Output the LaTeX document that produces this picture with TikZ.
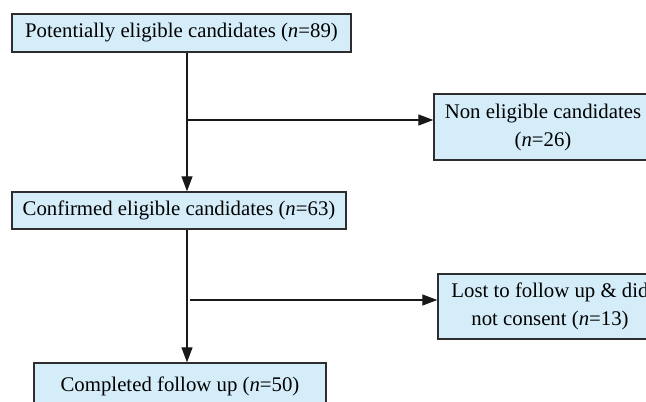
\documentclass[tikz,border=0pt]{standalone}
\usepackage{fontspec}
\setmainfont{Liberation Serif}
\usetikzlibrary{arrows.meta}
\definecolor{boxblue}{RGB}{212,237,249}
\definecolor{boxline}{RGB}{45,45,45}
\tikzset{%
  flowbox/.style  = {shape=rectangle, draw=boxline, line width=1.4pt,%
                     fill=boxblue, align=center, inner sep=0pt,%
                     font=\fontsize{20.8}{28}\selectfont},%
  flowline/.style = {line width=1.3pt, black!90},%
  flowarrow/.style= {flowline, -{Triangle[length=15pt,width=11pt]}}%
}
\newcommand{\nval}[1]{(\textit{n}=#1)}

\begin{document}
\begin{tikzpicture}[x=1pt,y=-1pt]
	\useasboundingbox (0,0) rectangle (646,402);
	\clip (0,0) rectangle (646,402);
	\node [flowbox, minimum width=339, minimum height=38] (pot) at (181.5,33)
		{Potentially eligible candidates \nval{89}};
	\node [flowbox, minimum width=218, minimum height=66] (non) at (543,127)
		{Non eligible candidates\\\nval{26}};
	\node [flowbox, minimum width=334, minimum height=37] (conf) at (179,210.5)
		{Confirmed eligible candidates \nval{63}};
	\node [flowbox, minimum width=224, minimum height=65] (lost) at (550,306.5)
		{Lost to follow up \& did\\not consent \nval{13}};
	\node [flowbox, minimum width=292, minimum height=46] (comp) at (180,386)
		{Completed follow up \nval{50}};
	% spine and branch points
	\coordinate (spine) at (187,0);
	\coordinate (b1) at (187,120);
	\coordinate (b2) at (190,300);
	\draw [flowarrow] (pot.south -| spine) -- (conf.north -| spine);
	\draw [flowarrow] (conf.south -| spine) -- (comp.north -| spine);
	\draw [flowarrow] (b1) -- (non.west |- b1);
	\draw [flowarrow] (b2) -- (lost.west |- b2);
\end{tikzpicture}
\end{document}
